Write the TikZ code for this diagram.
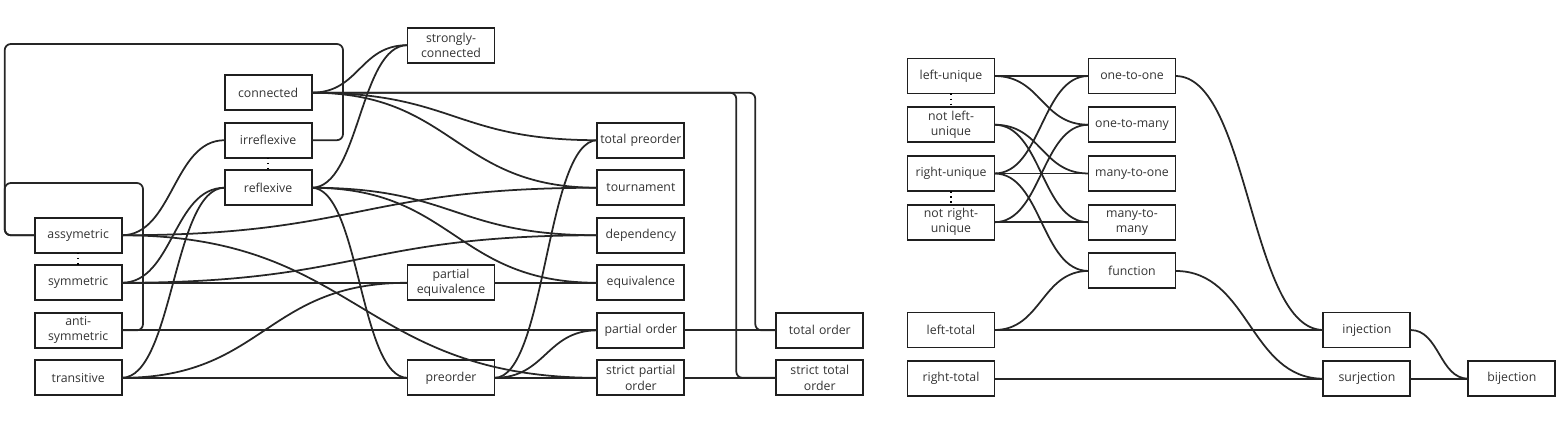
\documentclass[tikz,border=0pt]{standalone}
\usepackage{fontspec}
\setmainfont{Open Sans}
\usetikzlibrary{matrix, positioning, calc}

\tikzset{
  box/.style={draw=black!88, line width=1.1pt, text width=1.74cm, inner xsep=0pt, inner ysep=0pt, outer sep=0pt,
    minimum height=0.7cm, align=center, text=black!80, font=\fontsize{7}{8.6}\selectfont},
  wire/.style={draw=black!85, line width=1pt},
  link/.style={to path={.. controls ($(\tikztostart)!.5!(\tikztotarget |- \tikztostart)$)
    and ($(\tikztotarget)!.5!(\tikztostart |- \tikztotarget)$) .. (\tikztotarget)}},
}

\begin{document}
\begin{tikzpicture}[x=0.02cm, y=-0.02cm, node distance=0.275cm and 1.88cm]
        \useasboundingbox (0,0) rectangle (1557,446);

        % Properties of relations
        \matrix (m) [matrix of nodes, nodes={box, anchor=center}, column sep=1.80cm, row sep=0.212cm] at (449,211.5)
        {
        &[2.2mm] &[0.8mm] |(sconn)| {strongly-\\connected} &[2.2mm] & \\
        & |(conn)| connected & & & \\
        & |(irr)| irreflexive & & |(tpre)| total preorder & \\
        & |(refl)| reflexive & & |(tour)| tournament & \\
        |(asym)| assymetric & & & |(dep)| dependency & \\
        |(sym)| symmetric & & |(peq)| {partial\\equivalence} & |(equiv)| equivalence & \\
        |(anti)| {anti-\\symmetric} & & & |(po)| partial order & |(to)| total order \\
        |(trans)| transitive & & |(pre)| preorder & |(spo)| {strict partial\\order} & |(sto)| {strict total\\order} \\
        };

        % Opposite pairs
        \draw [dotted, line width=0.9pt] (irr.south) -- (refl.north);
        \draw [dotted, line width=0.9pt] (asym.south) -- (sym.north);

        % Brackets
        \draw [wire, rounded corners=3.5pt] (asym.west) -- ++(-30,0) |- (343,44) |- (irr.east);
        \draw [wire, rounded corners=3.5pt] (anti.east) -| (143,183) -| ($(asym.west)+(-30,0)$) -- (asym.west);
        \draw [wire, rounded corners=3.5pt] (conn.east) -| ($(to.west)+(-21,0)$) -- (to.west);
        \draw [wire, rounded corners=3.5pt] (conn.east) -| ($(sto.west)+(-40,0)$) -- (sto.west);

        % Straight links
        \foreach \a/\b in {trans/pre, anti/po, sym/peq, peq/equiv, pre/spo, po/to, spo/sto}
        {
        \draw [wire] (\a.east) -- (\b.west);
        }

        % Curved links
        \foreach \a/\b in {conn/sconn, refl/sconn, conn/tpre, conn/tour, refl/dep, refl/equiv, refl/pre,
          asym/irr, sym/refl, trans/refl, asym/tour, asym/spo, sym/dep, trans/peq, pre/tpre, pre/po}
        {
        \draw [wire] (\a.east) to[link] (\b.west);
        }

        % Properties of functions
        \node [box] (lu) at (951,76) {left-unique};
        \node [box, below=of lu] (nlu) {not left-\\unique};
        \node [box, below=of nlu] (ru) {right-unique};
        \node [box, below=of ru] (nru) {not right-\\unique};
        \node [box, right=of lu] (oto) {one-to-one};
        \node [box, below=of oto] (otm) {one-to-many};
        \node [box, below=of otm] (mto) {many-to-one};
        \node [box, below=of mto] (mtm) {many-to-\\many};
        \node [box, below=of mtm] (func) {function};
        \node [box] (ltot) at (951,330) {left-total};
        \node [box, below=of ltot] (rtot) {right-total};
        \node [box, right=6.58cm of ltot] (inj) {injection};
        \node [box, below=of inj] (surj) {surjection};
        \node [box, right=1.16cm of surj] (bij) {bijection};

        \draw [dotted, line width=0.9pt] (lu.south) -- (nlu.north);
        \draw [dotted, line width=0.9pt] (ru.south) -- (nru.north);

        \foreach \a/\b in {lu/oto, ru/mto, nru/mtm, ltot/inj, rtot/surj, surj/bij}
        {
        \draw [wire] (\a.east) -- (\b.west);
        }
        \foreach \a/\b in {lu/otm, nlu/mto, nlu/mtm, ru/oto, ru/func, nru/otm, ltot/func, oto/inj, func/surj, inj/bij}
        {
        \draw [wire] (\a.east) to[link] (\b.west);
        }
\end{tikzpicture}
\end{document}
